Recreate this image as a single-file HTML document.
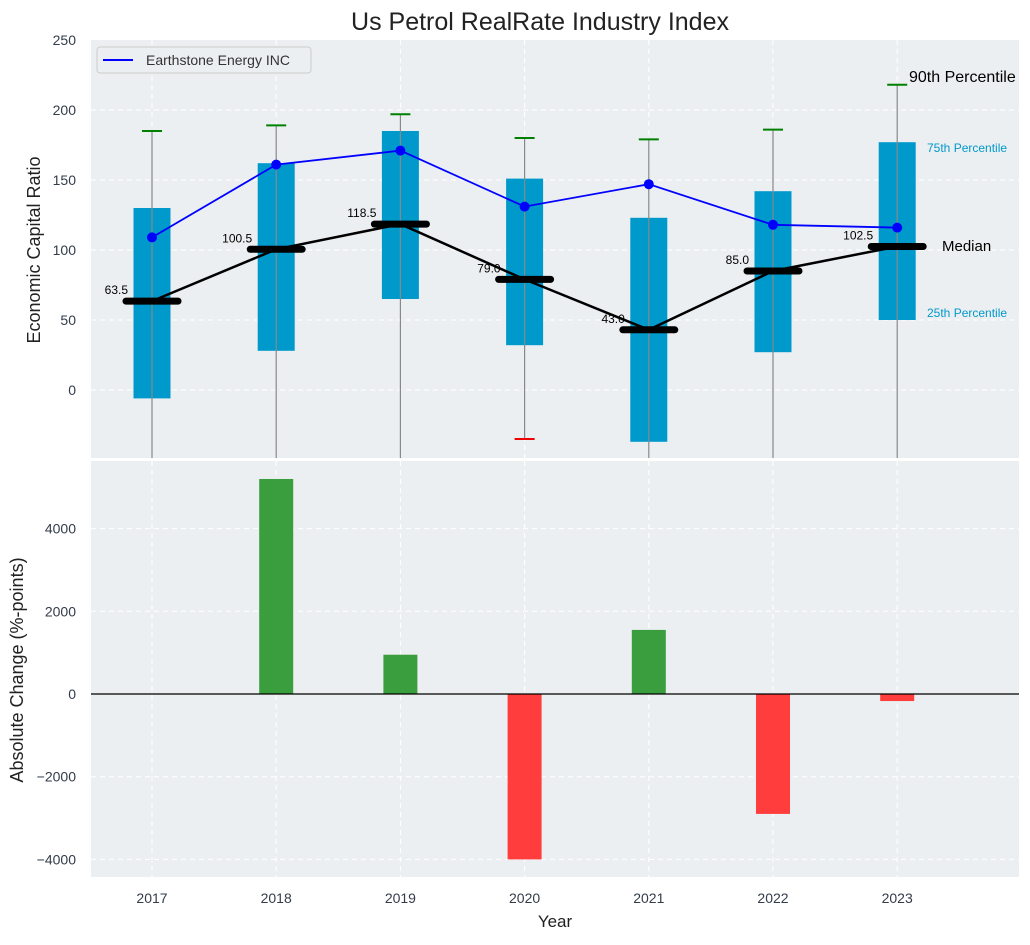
<!DOCTYPE html>
<html><head><meta charset="utf-8"><style>
body{margin:0;background:#fff;}
svg{font-family:"Liberation Sans",sans-serif;}
</style></head><body>
<svg id="chart" width="1030" height="940" xmlns="http://www.w3.org/2000/svg"></svg>
<script>
const years=[2017,2018,2019,2020,2021,2022,2023];
const q1=[-6,28,65,32,-37,27,50];
const q3=[130,162,185,151,123,142,177];
const whiskTop=[185,189,197,180,179,186,218];
const whiskBot=[-60,-60,-60,-35,-60,-60,-60];
const medians=[63.5,100.5,118.5,79.0,43.0,85.0,102.5];
const company=[109,161,171,131,147,118,116];
const changes=[0,5200,950,-4000,1550,-2900,-170];
const topTicks=[0,50,100,150,200,250];
const botTicks=[-4000,-2000,0,2000,4000];

const NS="http://www.w3.org/2000/svg";
const svg=document.getElementById('chart');
function el(tag,attrs,parent){const e=document.createElementNS(NS,tag);for(const k in attrs)e.setAttribute(k,attrs[k]);(parent||svg).appendChild(e);return e;}
const L=91,R=1019;
const x=i=>152+i*124.2;
const yT=v=>390-1.4*v;
const yB=v=>694-0.04135*v;
const T0=40,T1=458,B0=461,B1=877;

let bg=el('rect',{x:L,y:T0,width:R-L,height:T1-T0,fill:'#eceff1'});


bg=el('rect',{x:L,y:B0,width:R-L,height:B1-B0,fill:'#eceff1'});



topTicks.forEach(t=>{const y=yT(t);
 if(t<250) el('line',{x1:L,x2:R,y1:y,y2:y,stroke:'#fff','stroke-dasharray':'5,4','stroke-width':1});
 const tx=el('text',{x:76,y:y+5,'text-anchor':'end','font-size':14,fill:'#333c4a'});tx.textContent=t;
 
 
});
botTicks.forEach(t=>{const y=yB(t);
 el('line',{x1:L,x2:R,y1:y,y2:y,stroke:'#fff','stroke-dasharray':'5,4','stroke-width':1});
 const tx=el('text',{x:76,y:y+5,'text-anchor':'end','font-size':14,fill:'#333c4a'});tx.textContent=(t<0?'−':'')+Math.abs(t);
 
 
});
years.forEach((yr,i)=>{
 el('line',{x1:x(i),x2:x(i),y1:T0,y2:T1,stroke:'#fff','stroke-dasharray':'5,4'});
 el('line',{x1:x(i),x2:x(i),y1:B0,y2:B1,stroke:'#fff','stroke-dasharray':'5,4'});
 const tx=el('text',{x:x(i),y:903,'text-anchor':'middle','font-size':14,fill:'#333c4a'});tx.textContent=yr;
 
 
});

const clip=el('clipPath',{id:'tc'});el('rect',{x:L,y:T0,width:R-L,height:T1-T0},clip);
const g=el('g',{'clip-path':'url(#tc)'});
years.forEach((yr,i)=>{
 const b=el('rect',{x:x(i)-18.5,y:yT(q3[i]),width:37,height:yT(q1[i])-yT(q3[i]),fill:'#0099cc'},g);
 
 
 el('line',{x1:x(i),x2:x(i),y1:yT(whiskTop[i]),y2:yT(whiskBot[i]),stroke:'#888','stroke-width':1.2},g);
 el('line',{x1:x(i)-10,x2:x(i)+10,y1:yT(whiskTop[i]),y2:yT(whiskTop[i]),stroke:'#008000','stroke-width':2},g);
 if(whiskBot[i]>-48) el('line',{x1:x(i)-10,x2:x(i)+10,y1:yT(whiskBot[i]),y2:yT(whiskBot[i]),stroke:'#e00','stroke-width':2},g);
});
let p=el('polyline',{points:medians.map((m,i)=>x(i)+','+yT(m)).join(' '),fill:'none',stroke:'#000','stroke-width':2.5});


medians.forEach((m,i)=>{
 const ml=el('line',{x1:x(i)-26,x2:x(i)+26,y1:yT(m),y2:yT(m),stroke:'#000','stroke-width':7,'stroke-linecap':'round'});
 
 
 const tx=el('text',{x:x(i)-24,y:yT(m)-7,'text-anchor':'end','font-size':12,fill:'#000'});tx.textContent=m.toFixed(1);
 
 
});
p=el('polyline',{points:company.map((v,i)=>x(i)+','+yT(v)).join(' '),fill:'none',stroke:'#0000ff','stroke-width':1.8});


company.forEach((v,i)=>{const c=el('circle',{cx:x(i),cy:yT(v),r:5,fill:'#0000ff'});
 
 });

const ann=[['90th Percentile',909,82,16,'#000'],['75th Percentile',927,152,12,'#0099cc'],['Median',942,251,15,'#000'],['25th Percentile',927,317,12,'#0099cc']];
ann.forEach(a=>{const t=el('text',{x:a[1],y:a[2],'font-size':a[3],fill:a[4]});t.textContent=a[0];
 
 });

const lg=el('g',{});


el('rect',{x:97,y:47,width:214,height:26,rx:3,fill:'#eceff1',stroke:'#ccc'},lg);
el('line',{x1:103,x2:133,y1:60,y2:60,stroke:'#0000ff','stroke-width':2},lg);
let lt=el('text',{x:146,y:65,'font-size':14,fill:'#333'},lg);lt.textContent='Earthstone Energy INC';

changes.forEach((c,i)=>{ if(c===0) return;
 const y0=yB(0),y1=yB(c);
 const r=el('rect',{x:x(i)-17,y:Math.min(y0,y1),width:34,height:Math.abs(y1-y0),fill:c>0?'#3a9e3e':'#ff3d3d'});
 
 
});
el('line',{x1:L,x2:R,y1:yB(0),y2:yB(0),stroke:'#000','stroke-width':1.2});

let t=el('text',{x:540,y:30,'text-anchor':'middle','font-size':25,fill:'#222'});t.textContent='Us Petrol RealRate Industry Index';

t=el('text',{x:555,y:927,'text-anchor':'middle','font-size':17,fill:'#222'});t.textContent='Year';

t=el('text',{x:0,y:0,'text-anchor':'middle','font-size':18,fill:'#222',transform:'translate(40,250) rotate(-90)'});t.textContent='Economic Capital Ratio';

t=el('text',{x:0,y:0,'text-anchor':'middle','font-size':18,fill:'#222',transform:'translate(23,670) rotate(-90)'});t.textContent='Absolute Change (%-points)';

</script>
</body></html>
